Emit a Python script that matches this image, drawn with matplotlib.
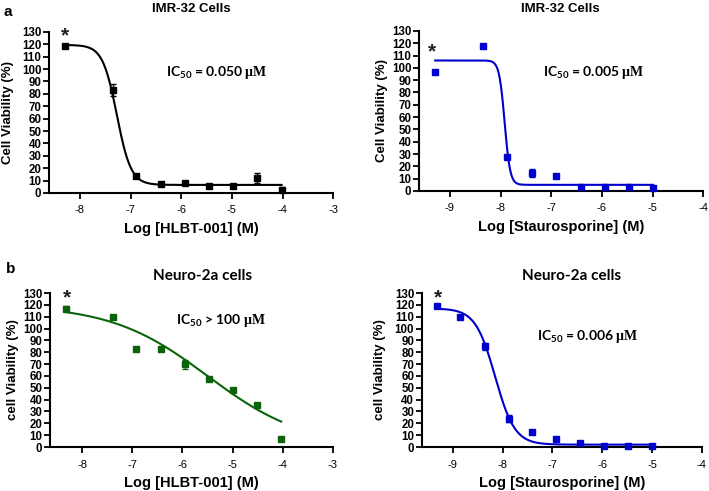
import matplotlib
matplotlib.use('Agg')
import matplotlib.pyplot as plt
import numpy as np

plt.rcParams['font.family'] = ['Liberation Sans', 'DejaVu Sans']
plt.rcParams['mathtext.fontset'] = 'custom'
plt.rcParams['mathtext.sf'] = 'Lato:bold'
plt.rcParams['mathtext.rm'] = 'Lato:bold'
plt.rcParams['mathtext.bf'] = 'Liberation Serif:bold'

# ---------------- data ----------------
# a-left: IMR-32, HLBT-001
a1_x = [-8.3, -7.35, -6.9, -6.4, -5.93, -5.45, -4.97, -4.5, -4.02]
a1_y = [119, 83, 14, 7, 8, 6, 6, 12, 2.5]
a1_err = [1, 5, 1, 1, 1, 1, 1, 4, 2]
a1_fit = (119.5, 6.5, -7.27, 3.1)   # top, bottom, logIC50, hill

# a-right: IMR-32, Staurosporine
a2_x = [-9.29, -8.34, -7.87, -7.38, -6.9, -6.42, -5.94, -5.46, -4.99]
a2_y = [96.5, 118, 28, 14.5, 12, 3.5, 3.5, 3.5, 2.7]
a2_err = [0, 0, 1, 3.5, 1, 0, 0, 0, 0]
a2_fit = (106, 5, -7.92, 8.0)

# b-left: Neuro-2a, HLBT-001
b1_x = [-8.33, -7.39, -6.92, -6.43, -5.94, -5.47, -4.99, -4.51, -4.03]
b1_y = [116.7, 109.7, 82.8, 82.8, 69.8, 57, 47.8, 35.6, 6.5]
b1_err = [2, 0, 0, 0, 4, 1.5, 0, 0, 0]
b1_fit = (120, 0, -5.5, 0.45)

# b-right: Neuro-2a, Staurosporine
b2_x = [-9.32, -8.85, -8.36, -7.88, -7.4, -6.92, -6.44, -5.96, -5.49, -5.0]
b2_y = [119.3, 110, 85, 23.7, 12.7, 6.8, 3.7, 1.1, 1.1, 1.1]
b2_err = [1, 0, 3, 3, 0, 2, 0, 0, 0, 0]
b2_fit = (117, 2, -8.15, 2.2)

yticks = list(range(0, 131, 10))

W, H = 709, 491

panels = [
    dict(pos=[0.069, 0.607, 0.401, 0.328], x=a1_x, y=a1_y, err=a1_err, fit=a1_fit,
         color='black', xlim=(-8.61, -3), xticks=[-8, -7, -6, -5, -4, -3],
         title='IMR-32 Cells', tfont='Liberation Sans', tsize=9.5, tpx=(191, 11.5),
         ylabel='Cell Viability (%)', ylx=8, xlabel='Log [HLBT-001] (M)',
         ic=r'IC$_{\mathsf{50}}$ = 0.050 $\mathbf{\mu M}$', icpos=(-5.3, 97),
         star=(-8.3, 127)),
    dict(pos=[0.591, 0.611, 0.401, 0.326], x=a2_x, y=a2_y, err=a2_err, fit=a2_fit,
         color='#0000CC', xlim=(-9.61, -4), xticks=[-9, -8, -7, -6, -5, -4],
         title='IMR-32 Cells', tfont='Liberation Sans', tsize=9.5, tpx=(560, 11.5),
         ylabel='Cell Viability (%)', ylx=382, xlabel='Log [Staurosporine] (M)',
         ic=r'IC$_{\mathsf{50}}$ = 0.005 $\mathbf{\mu M}$', icpos=(-6.17, 96),
         star=(-9.35, 113)),
    dict(pos=[0.0705, 0.0896, 0.399, 0.3136], x=b1_x, y=b1_y, err=b1_err, fit=b1_fit,
         color='#0B640B', xlim=(-8.64, -3), xticks=[-8, -7, -6, -5, -4, -3],
         title='Neuro-2a cells', tfont='Lato', tsize=11, tpx=(203, 280),
         ylabel='cell Viability (%)', ylx=13, xlabel='Log [HLBT-001] (M)',
         ic=r'IC$_{\mathsf{50}}$ > 100 $\mathbf{\mu M}$', icpos=(-5.23, 107),
         star=(-8.3, 126)),
    dict(pos=[0.595, 0.0896, 0.395, 0.3136], x=b2_x, y=b2_y, err=b2_err, fit=b2_fit,
         color='#0000CC', xlim=(-9.62, -4), xticks=[-9, -8, -7, -6, -5, -4],
         title='Neuro-2a cells', tfont='Lato', tsize=11, tpx=(572, 280),
         ylabel='cell Viability (%)', ylx=380, xlabel='Log [Staurosporine] (M)',
         ic=r'IC$_{\mathsf{50}}$ = 0.006 $\mathbf{\mu M}$', icpos=(-6.3, 93),
         star=(-9.3, 126)),
]

fig = plt.figure(figsize=(W / 100, H / 100), dpi=100)

for p in panels:
    ax = fig.add_axes(p['pos'])
    top, bottom, c, h = p['fit']
    xs = np.linspace(min(p['x']), max(p['x']), 400)
    ys = bottom + (top - bottom) / (1 + 10 ** ((xs - c) * h))
    ax.plot(xs, ys, color=p['color'], lw=1.5, zorder=2, clip_on=False)
    ax.errorbar(p['x'], p['y'], yerr=p['err'], fmt='s', color=p['color'],
                ms=5, capsize=2.5, elinewidth=1, capthick=1, zorder=3, clip_on=False)
    ax.set_xlim(*p['xlim'])
    ax.set_ylim(0, 130)
    ax.set_xticks(p['xticks'])
    ax.set_xticklabels([str(t) for t in p['xticks']], fontsize=8)
    ax.set_yticks(yticks)
    ax.set_yticklabels([str(t) for t in yticks], fontsize=8.3, fontweight='bold')
    for s in ['top', 'right']:
        ax.spines[s].set_visible(False)
    for s in ['left', 'bottom']:
        ax.spines[s].set_linewidth(1.5)
        ax.spines[s].set_color('black')
    ax.tick_params(axis='both', direction='out', length=4, width=1.3, pad=1.5)
    ax.tick_params(axis='x', pad=5)
    ax.set_ylabel(p['ylabel'], fontsize=9.5, fontweight='bold')
    left_px = p['pos'][0] * W
    width_px = p['pos'][2] * W
    ax.yaxis.set_label_coords((p['ylx'] - left_px) / width_px, 0.5)
    ax.yaxis.label.set_va('center')
    ax.set_xlabel(p['xlabel'], fontsize=10.5, fontweight='bold', labelpad=5)
    fig.text(p['tpx'][0] / W, 1 - p['tpx'][1] / H, p['title'], ha='center', va='baseline',
             fontsize=p['tsize'], fontweight='bold', family=p['tfont'])
    ax.text(p['icpos'][0], p['icpos'][1], p['ic'], ha='center', va='center',
            fontsize=10, fontweight='bold', family='Lato')
    ax.text(p['star'][0], p['star'][1], '*', ha='center', va='center',
            fontsize=15, fontweight='bold', color='#202020', clip_on=False)

fig.text(8 / W, 1 - 16 / H, 'a', fontsize=11, fontweight='bold', ha='center', va='baseline')
fig.text(11 / W, 1 - 273 / H, 'b', fontsize=11, fontweight='bold', ha='center', va='baseline')

fig.savefig('out.png', dpi=100)
